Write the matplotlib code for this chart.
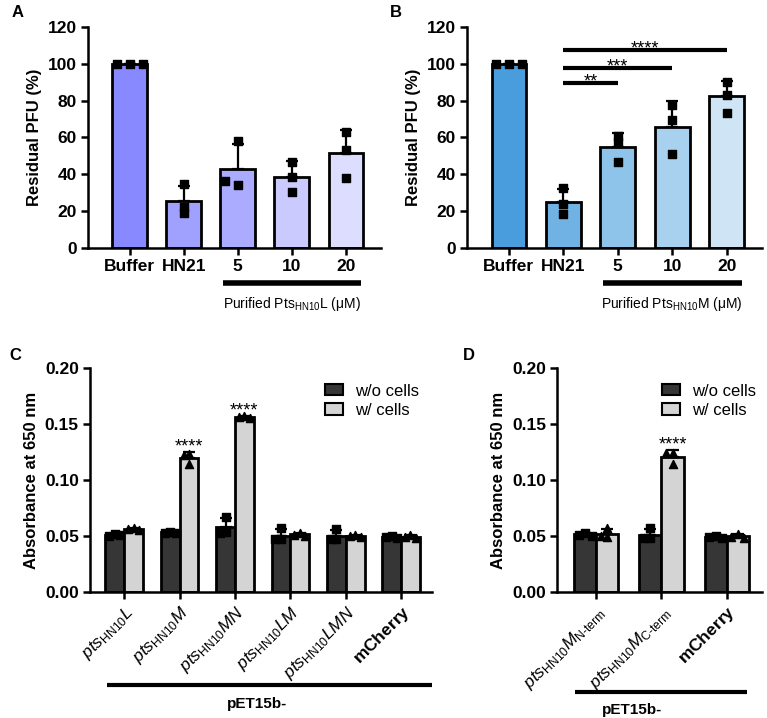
import numpy as np
import matplotlib
matplotlib.use('Agg')
import matplotlib.pyplot as plt
from matplotlib.patches import Patch

plt.rcParams['font.family'] = ['Liberation Sans', 'DejaVu Sans']
plt.rcParams['mathtext.fontset'] = 'custom'
plt.rcParams['mathtext.rm'] = 'Liberation Sans'
plt.rcParams['mathtext.it'] = 'Liberation Sans:italic'
plt.rcParams['mathtext.bf'] = 'Liberation Sans:bold'

# ---- data ----
ab_labels = ['Buffer', 'HN21', '5', '10', '20']
a_points = [[100, 100, 100], [34.7, 22.5, 19], [58.3, 34, 36.5], [46.9, 38.8, 30.3], [63.2, 53.2, 37.9]]
b_points = [[100, 100, 100], [32.5, 24, 18.5], [61, 57.5, 46.6], [77.6, 69.4, 50.8], [90.4, 83.1, 73.4]]
a_colors = ['#8888ff', '#a0a0ff', '#ababff', '#cacaff', '#ddddff']
b_colors = ['#4a9ddc', '#70b2e3', '#8ec3ea', '#a8d0ef', '#cfe4f4']
b_sig = [(1, 2, 89.5, '**'), (1, 3, 98, '***'), (1, 4, 107.4, '****')]

c_labels = [r'$\mathit{pts}_{\mathrm{HN10}}\mathit{L}$',
            r'$\mathit{pts}_{\mathrm{HN10}}\mathit{M}$',
            r'$\mathit{pts}_{\mathrm{HN10}}\mathit{MN}$',
            r'$\mathit{pts}_{\mathrm{HN10}}\mathit{LM}$',
            r'$\mathit{pts}_{\mathrm{HN10}}\mathit{LMN}$',
            r'$\mathbf{mCherry}$']
c_wo = [[0.052, 0.050, 0.051], [0.054, 0.053, 0.053], [0.067, 0.054, 0.053],
        [0.057, 0.047, 0.047], [0.056, 0.047, 0.047], [0.050, 0.049, 0.048]]
c_w = [[0.057, 0.056, 0.055], [0.123, 0.122, 0.114], [0.157, 0.156, 0.155],
       [0.053, 0.051, 0.050], [0.051, 0.050, 0.049], [0.051, 0.049, 0.048]]
c_sig = ['', '****', '****', '', '', '']

d_labels = [r'$\mathit{pts}_{\mathrm{HN10}}\mathit{M}_{\text{N-term}}$',
            r'$\mathit{pts}_{\mathrm{HN10}}\mathit{M}_{\text{C-term}}$',
            r'$\mathbf{mCherry}$']
d_wo = [[0.053, 0.051, 0.050], [0.057, 0.048, 0.048], [0.050, 0.049, 0.048]]
d_w = [[0.057, 0.050, 0.049], [0.124, 0.124, 0.114], [0.052, 0.049, 0.048]]
d_sig = ['', '****', '']

dark = '#363636'
light = '#d4d4d4'
FS = 12.5

fig = plt.figure(figsize=(7.67, 7.18), dpi=100)


def style_ax(ax):
    for s in ['top', 'right']:
        ax.spines[s].set_visible(False)
    for s in ['left', 'bottom']:
        ax.spines[s].set_linewidth(1.8)
    ax.tick_params(width=1.8, length=5, labelsize=FS, pad=3)
    for t in ax.get_yticklabels():
        t.set_fontweight('bold')


def swarm(pts, jit, thr):
    # shift points sideways only when they would overlap
    placed = []
    offs = []
    for p in pts:
        for o in [0, -jit, jit, -2 * jit, 2 * jit]:
            if all(abs(p - q) > thr or o != oo for q, oo in placed):
                break
        placed.append((p, o))
        offs.append(o)
    return np.array(offs)


def draw_bar(ax, x, pts, color, width, marker, jit, thr):
    pts = np.array(pts)
    m = pts.mean()
    sd = pts.std(ddof=1)
    ax.bar(x, m, width=width, color=color, edgecolor='black', linewidth=2, zorder=2)
    ax.errorbar(x, m, yerr=[[0], [sd]], fmt='none', ecolor='black',
                elinewidth=1.6, capsize=4, capthick=1.6, zorder=3)
    ax.scatter(x + swarm(pts, jit, thr), pts, marker=marker, s=34, color='black',
               zorder=4, clip_on=False)


def stars(ax, x, y, s):
    ax.annotate(s, (x, y), xytext=(0, -2.5), textcoords='offset points',
                ha='center', va='baseline', fontsize=13)


def panel_ab(rect, pts_list, colors, name, letter, sig=None):
    ax = fig.add_axes(rect)
    x = np.arange(len(ab_labels))
    for i in x:
        draw_bar(ax, i, pts_list[i], colors[i], 0.64, 's', 0.24, 3.0)
    ax.set_xlim(-0.77, 4.65)
    ax.set_ylim(0, 120)
    ax.set_yticks(range(0, 121, 20))
    ax.set_xticks(x)
    ax.set_xticklabels(ab_labels, fontweight='bold', fontsize=FS)
    ax.set_ylabel('Residual PFU (%)', fontweight='bold', fontsize=12)
    style_ax(ax)
    trans = ax.get_xaxis_transform()
    ax.plot([1.73, 4.28], [-0.158, -0.158], color='black', lw=4, transform=trans, clip_on=False,
            solid_capstyle='butt')
    ax.text(3.0, -0.255, name, transform=trans, ha='center', va='center', fontsize=10)
    if sig:
        for x0, x1, y, s in sig:
            ax.plot([x0, x1], [y, y], color='black', lw=3, solid_capstyle='butt', zorder=5)
            stars(ax, (x0 + x1) / 2, y, s)
    fig.text(rect[0] - 0.1, 0.982, letter, fontweight='bold', fontsize=12, ha='left', va='center')
    return ax


panel_ab([0.1147, 0.6546, 0.382, 0.3078], a_points, a_colors,
         r'Purified Pts$_{\mathrm{HN10}}$L ($\mathrm{\mu}$M)', 'A')
panel_ab([0.6089, 0.6546, 0.3846, 0.3078], b_points, b_colors,
         r'Purified Pts$_{\mathrm{HN10}}$M ($\mathrm{\mu}$M)', 'B', b_sig)


def panel_cd(rect, labels, wo, w, sig, xlim, line_x, text_x, line_y, text_y, leg_x, letter, letter_x):
    ax = fig.add_axes(rect)
    x = np.arange(len(labels))
    bw = 0.34
    for i in x:
        draw_bar(ax, i - bw / 2, wo[i], dark, bw, 's', 0.1, 0.007)
        draw_bar(ax, i + bw / 2, w[i], light, bw, '^', 0.1, 0.007)
        if sig[i]:
            top = np.mean(w[i]) + np.std(w[i], ddof=1)
            stars(ax, i + bw / 2, top + 0.004, sig[i])
    ax.set_xlim(*xlim)
    ax.set_ylim(0, 0.2)
    ax.set_yticks([0, 0.05, 0.10, 0.15, 0.20])
    ax.set_yticklabels(['0.00', '0.05', '0.10', '0.15', '0.20'])
    ax.set_xticks(x)
    ax.set_xticklabels(labels, rotation=45, ha='right', rotation_mode='anchor', fontsize=FS)
    ax.set_ylabel('Absorbance at 650 nm', fontweight='bold', fontsize=12)
    style_ax(ax)
    trans = ax.get_xaxis_transform()
    ax.plot(line_x, [line_y, line_y], color='black', lw=3, transform=trans, clip_on=False,
            solid_capstyle='butt')
    ax.text(text_x, text_y, 'pET15b-', transform=trans, ha='center', va='center',
            fontweight='bold', fontsize=11)
    handles = [Patch(facecolor=dark, edgecolor='black', linewidth=1.5, label='w/o cells'),
               Patch(facecolor=light, edgecolor='black', linewidth=1.5, label='w/ cells')]
    ax.legend(handles=handles, loc='upper left', bbox_to_anchor=(leg_x, 0.93), frameon=False,
              fontsize=12, handlelength=1.1, handleheight=0.65, labelspacing=0.25,
              borderpad=0, borderaxespad=0, handletextpad=0.7)
    fig.text(letter_x, 0.505, letter, fontweight='bold', fontsize=12, ha='left', va='center')
    return ax


panel_cd([0.1173, 0.1755, 0.446, 0.312], c_labels, c_wo, c_w, c_sig, (-0.62, 5.56),
         [-0.31, 5.56], 2.4, -0.415, -0.5, 0.687, 'C', 0.012)
panel_cd([0.7262, 0.1755, 0.2673, 0.312], d_labels, d_wo, d_w, d_sig, (-0.6, 2.54),
         [-0.32, 2.31], 0.55, -0.446, -0.525, 0.512, 'D', 0.603)

fig.savefig('out.png', dpi=100)
